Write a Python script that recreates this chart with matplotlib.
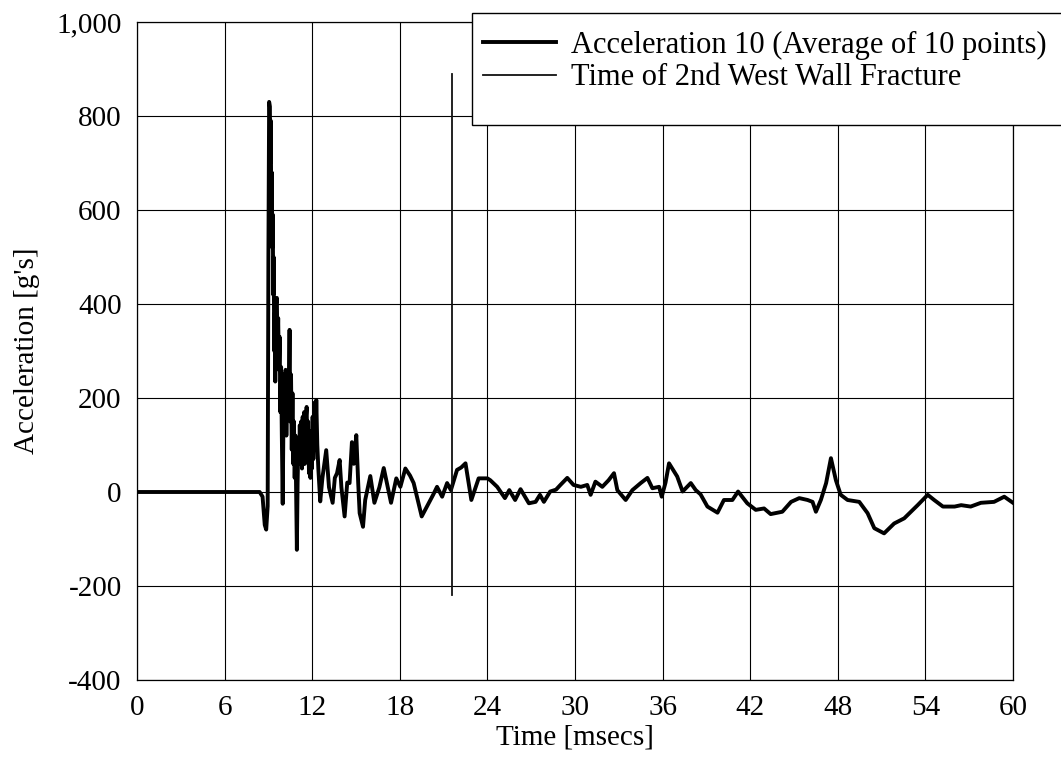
import matplotlib
matplotlib.use("Agg")
import matplotlib.pyplot as plt
from matplotlib.ticker import FuncFormatter
from matplotlib.patches import Rectangle

plt.rcParams['font.family'] = ['Liberation Serif', 'DejaVu Serif']

# Acceleration 10 (average of 10 points): time [ms], acceleration [g's]
time_ms = [
    0.0, 2.0, 4.0, 6.0, 8.0, 8.4, 8.6, 8.75, 8.85, 8.95, 9.0, 9.05, 9.1, 9.13, 9.16,
    9.2, 9.23, 9.27, 9.3, 9.33, 9.36, 9.4, 9.43, 9.47, 9.52, 9.58, 9.62, 9.67, 9.72,
    9.77, 9.82, 9.87, 9.92, 9.98, 10.03, 10.08, 10.12, 10.18, 10.23, 10.3, 10.38, 10.45,
    10.5, 10.55, 10.6, 10.65, 10.7, 10.75, 10.8, 10.85, 10.9, 10.95, 11.0, 11.05, 11.1,
    11.15, 11.2, 11.25, 11.3, 11.35, 11.4, 11.45, 11.5, 11.55, 11.62, 11.67, 11.72,
    11.78, 11.83, 11.88, 11.93, 11.98, 12.03, 12.08, 12.15, 12.22, 12.28, 12.35, 12.42,
    12.55, 12.7, 12.96, 13.15, 13.4, 13.55, 13.7, 13.88, 14.0, 14.22, 14.4, 14.56,
    14.72, 14.85, 15.02, 15.15, 15.25, 15.48, 15.63, 15.98, 16.26, 16.6, 16.9, 17.4,
    17.76, 18.04, 18.38, 18.7, 18.95, 19.5, 19.98, 20.3, 20.55, 20.9, 21.24, 21.5,
    21.92, 22.2, 22.5, 22.9, 23.4, 24.0, 24.2, 24.67, 25.2, 25.5, 25.9, 26.27, 26.84,
    27.3, 27.6, 27.87, 28.3, 28.7, 29.0, 29.47, 29.9, 30.4, 30.84, 31.07, 31.4, 31.87,
    32.3, 32.67, 32.9, 33.47, 33.93, 34.5, 34.96, 35.3, 35.76, 35.94, 36.2, 36.44,
    36.8, 37.0, 37.37, 37.93, 38.27, 38.6, 39.07, 39.76, 40.2, 40.78, 41.17, 41.8,
    42.38, 42.95, 43.4, 44.2, 44.8, 45.36, 45.93, 46.27, 46.5, 46.84, 47.2, 47.53,
    47.87, 48.2, 48.67, 49.47, 50.04, 50.5, 51.17, 51.86, 52.55, 53.47, 54.16, 54.6,
    55.2, 56.0, 56.45, 57.1, 57.8, 58.7, 59.4, 60.0,
]
accel_g = [
    0, 0, 0, 0, 0, 0, -10, -70, -80, -30, 500, 830, 820, 700, 790,
    600, 680, 520, 590, 420, 500, 300, 380, 235, 400, 413, 300, 370, 260,
    330, 170, 266, 120, -25, 150, 250, 140, 260, 120, 250, 180, 345,
    150, 250, 90, 210, 60, 150, 30, 120, 0, -123, 20, 100, 60,
    142, 70, 150, 50, 160, 60, 170, 60, 150, 181, 80, 150,
    40, 130, 30, 120, 50, 160, 70, 190, 90, 196, 100, 50,
    -20, 30, 89, 10, -23, 30, 40, 68, 10, -52, 20, 19,
    106, 60, 121, 20, -45, -74, -17, 34, -23, 10, 51, -23,
    29, 11, 50, 35, 19, -52, -24, -5, 11, -10, 19, 4,
    47, 52, 61, -17, 29, 29, 25, 11, -13, 4, -17, 6, -24,
    -21, -6, -21, 1, 5, 15, 30, 15, 11, 15, -6, 22, 11,
    25, 40, 4, -17, 4, 19, 30, 8, 11, -10, 20, 61,
    43, 33, 1, 19, 4, -5, -31, -44, -17, -17, 1, -24,
    -38, -35, -47, -42, -21, -13, -17, -21, -42, -17, 19, 72,
    25, -6, -17, -21, -45, -77, -88, -67, -56, -28, -6, -17,
    -31, -31, -28, -31, -23, -21, -10, -23,
]

# Time of 2nd West Wall Fracture
fracture_time = 21.55
fracture_range = [-220, 890]

x_ticks = [0, 6, 12, 18, 24, 30, 36, 42, 48, 54, 60]
y_ticks = [-400, -200, 0, 200, 400, 600, 800, 1000]

fig = plt.figure(figsize=(10.61, 7.71), dpi=100)
ax = fig.add_axes([137/1061, 91/771, (1013-137)/1061, (680-22)/771])

ax.plot(time_ms, accel_g, color='black', lw=2.8, solid_joinstyle='round',
        label='Acceleration 10 (Average of 10 points)', zorder=3)
ax.plot([fracture_time, fracture_time], fracture_range, color='#111111', lw=1.3,
        label='Time of 2nd West Wall Fracture', zorder=3)

ax.set_xlim(0, 60)
ax.set_ylim(-400, 1000)
ax.set_xticks(x_ticks)
ax.set_yticks(y_ticks)
ax.yaxis.set_major_formatter(FuncFormatter(lambda v, p: f'{v:,.0f}'))
ax.grid(True, color='black', lw=0.8)
ax.tick_params(length=0, labelsize=21, pad=11)
for s in ax.spines.values():
    s.set_linewidth(0.9)

ax.set_xlabel('Time [msecs]', fontsize=21, labelpad=2)
ax.set_ylabel("Acceleration [g's]", fontsize=21, labelpad=12)

# legend box (white, extends past right edge)
fig.patches.append(Rectangle((472/1061, 1 - 125/771), 0.6, 112/771,
                             transform=fig.transFigure, facecolor='white',
                             edgecolor='black', lw=1.0, zorder=5))
leg = fig.legend(loc='upper left', bbox_to_anchor=(472/1061, 1 - 20/771),
                 bbox_transform=fig.transFigure, fontsize=22, frameon=False,
                 borderaxespad=0, borderpad=0.35, labelspacing=0.12,
                 handlelength=2.4, handletextpad=0.5)
leg.set_zorder(6)

fig.savefig('out.png', dpi=100)
